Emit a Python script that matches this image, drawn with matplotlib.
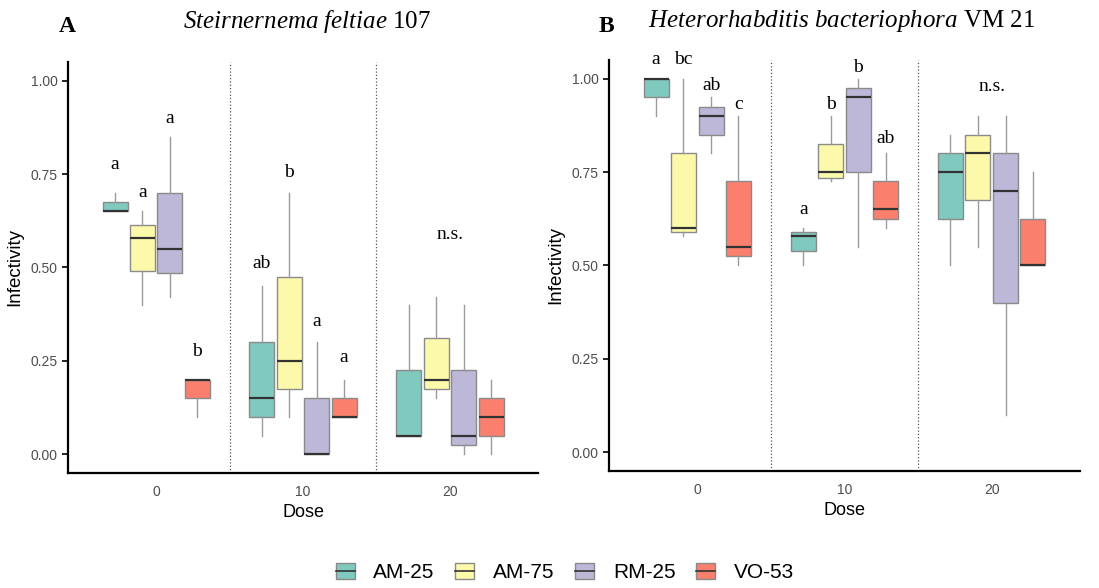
import matplotlib
matplotlib.use('Agg')
import matplotlib.pyplot as plt
from matplotlib.patches import Patch
from matplotlib.lines import Line2D

plt.rcParams['font.family'] = ['Liberation Sans', 'DejaVu Sans']
plt.rcParams['mathtext.fontset'] = 'custom'
plt.rcParams['mathtext.it'] = 'Liberation Serif:italic'
plt.rcParams['mathtext.rm'] = 'Liberation Serif'

doses = ['0', '10', '20']
strains = ['AM-25', 'AM-75', 'RM-25', 'VO-53']
colors = ['#80c9bf', '#fdf9ab', '#bdb7d8', '#fa806d']

# whislo, q1, med, q3, whishi  per strain, per dose
# panel A: Steinernema feltiae 107
a_am25 = [[0.65, 0.65, 0.65, 0.675, 0.70], [0.05, 0.10, 0.15, 0.30, 0.45], [0.05, 0.05, 0.05, 0.225, 0.40]]
a_am75 = [[0.40, 0.49, 0.58, 0.615, 0.65], [0.10, 0.175, 0.25, 0.475, 0.70], [0.15, 0.175, 0.20, 0.31, 0.42]]
a_rm25 = [[0.42, 0.485, 0.55, 0.70, 0.85], [0.0, 0.0, 0.0, 0.15, 0.30], [0.0, 0.025, 0.05, 0.225, 0.40]]
a_vo53 = [[0.10, 0.15, 0.20, 0.20, 0.20], [0.10, 0.10, 0.10, 0.15, 0.20], [0.0, 0.05, 0.10, 0.15, 0.20]]
# panel B: Heterorhabditis bacteriophora VM 21
b_am25 = [[0.90, 0.95, 1.00, 1.00, 1.00], [0.50, 0.54, 0.58, 0.59, 0.60], [0.50, 0.625, 0.75, 0.80, 0.85]]
b_am75 = [[0.58, 0.59, 0.60, 0.80, 1.00], [0.725, 0.735, 0.75, 0.825, 0.90], [0.55, 0.675, 0.80, 0.85, 0.90]]
b_rm25 = [[0.80, 0.85, 0.90, 0.925, 0.95], [0.55, 0.75, 0.95, 0.975, 1.00], [0.10, 0.40, 0.70, 0.80, 0.90]]
b_vo53 = [[0.50, 0.525, 0.55, 0.725, 0.90], [0.60, 0.625, 0.65, 0.725, 0.80], [0.50, 0.50, 0.50, 0.625, 0.75]]

# significance letters (dose index, strain index, text, y)
a_letters = [(0, 0, 'a', 0.775), (0, 1, 'a', 0.70), (0, 2, 'a', 0.90), (0, 3, 'b', 0.276),
             (1, 0, 'ab', 0.51), (1, 1, 'b', 0.754), (1, 2, 'a', 0.356), (1, 3, 'a', 0.26)]
b_letters = [(0, 0, 'a', 1.05), (0, 1, 'bc', 1.05), (0, 2, 'ab', 0.983), (0, 3, 'c', 0.93),
             (1, 0, 'a', 0.65), (1, 1, 'b', 0.93), (1, 2, 'b', 1.03), (1, 3, 'ab', 0.84)]
a_ns = 0.588
b_ns = 0.98

offsets = [-0.28, -0.094, 0.094, 0.28]


def draw_panel(ax, series, letters, ns_y):
    for s, data in enumerate(series):
        stats = []
        for d in range(3):
            lo, q1, med, q3, hi = data[d]
            stats.append(dict(whislo=lo, q1=q1, med=med, q3=q3, whishi=hi, fliers=[]))
        pos = [d + offsets[s] for d in range(3)]
        ax.bxp(stats, positions=pos, widths=0.17, patch_artist=True, showcaps=False,
               boxprops=dict(facecolor=colors[s], edgecolor='#8a8a8a', linewidth=1.0),
               whiskerprops=dict(color='#9a9a9a', linewidth=1.0),
               medianprops=dict(color='#333333', linewidth=1.6),
               manage_ticks=False, zorder=3)
    for d, s, txt, y in letters:
        ax.text(d + offsets[s], y, txt, ha='center', va='center', fontsize=14,
                family='Liberation Serif')
    ax.text(2, ns_y, 'n.s.', ha='center', va='center', fontsize=14, family='Liberation Serif')
    for xv in [0.5, 1.5]:
        ax.axvline(xv, color='#555555', linestyle=':', linewidth=0.9)
    ax.set_xlim(-0.6, 2.6)
    ax.set_ylim(-0.05, 1.05)
    ax.set_xticks(range(3))
    ax.set_xticklabels(doses)
    ax.set_yticks([0, 0.25, 0.5, 0.75, 1.0])
    ax.set_yticklabels(['0.00', '0.25', '0.50', '0.75', '1.00'])
    ax.tick_params(axis='both', labelsize=10, labelcolor='#4d4d4d')
    ax.tick_params(axis='x', length=0, pad=9)
    ax.tick_params(axis='y', length=4, width=1.2)
    for sp in ['top', 'right']:
        ax.spines[sp].set_visible(False)
    for sp in ['left', 'bottom']:
        ax.spines[sp].set_linewidth(1.6)
    ax.set_xlabel('Dose', fontsize=13, labelpad=3)
    ax.set_ylabel('Infectivity', fontsize=13.5, labelpad=5)


fig = plt.figure(figsize=(10.99, 5.88), dpi=100)
ax1 = fig.add_axes([0.0619, 0.1956, 0.4277, 0.699])
ax2 = fig.add_axes([0.5541, 0.199, 0.4286, 0.699])

draw_panel(ax1, [a_am25, a_am75, a_rm25, a_vo53], a_letters, a_ns)
draw_panel(ax2, [b_am25, b_am75, b_rm25, b_vo53], b_letters, b_ns)

fig.text(0.061, 0.955, 'A', fontsize=17, fontweight='bold', family='Liberation Serif', ha='center', va='center')
fig.text(0.279, 0.964, r'$\mathit{Steirnernema\ feltiae}$ 107', fontsize=18,
         family='Liberation Serif', ha='center', va='center')
fig.text(0.552, 0.955, 'B', fontsize=17, fontweight='bold', family='Liberation Serif', ha='center', va='center')
fig.text(0.766, 0.964, r'$\mathit{Heterorhabditis\ bacteriophora}$ VM 21', fontsize=18,
         family='Liberation Serif', ha='center', va='center')

handles = [(Patch(facecolor=c, edgecolor='#8a8a8a'), Line2D([], [], color='#333333', lw=1.2))
           for c in colors]
fig.legend(handles, strains, loc='center', bbox_to_anchor=(0.514, 0.026), ncol=4, frameon=False,
           fontsize=15, handlelength=0.9, handleheight=0.8, columnspacing=1.0, handletextpad=0.9)

fig.savefig('out.png', dpi=100)
